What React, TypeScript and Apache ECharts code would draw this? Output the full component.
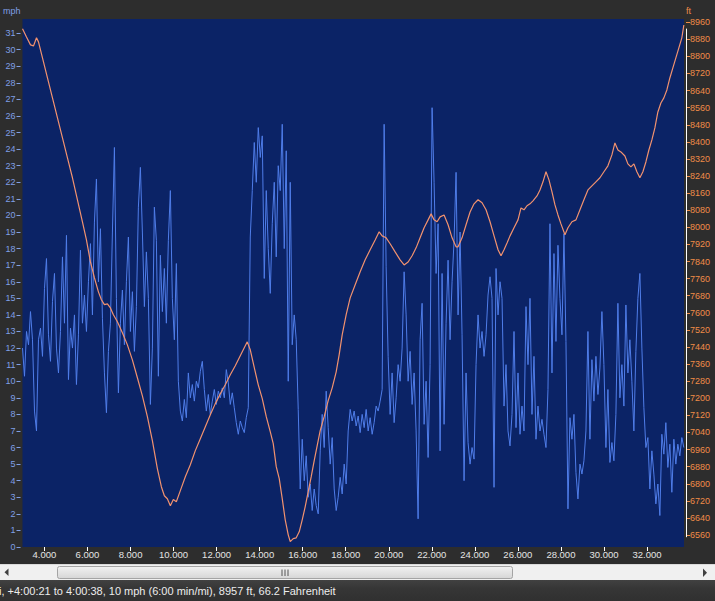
import React, { useEffect, useRef } from 'react';
import * as echarts from 'echarts';

// ---------- data ----------
const DIST_TICKS = [4, 6, 8, 10, 12, 14, 16, 18, 20, 22, 24, 26, 28, 30, 32];
const SPEED_TICKS = [0, 1, 2, 3, 4, 5, 6, 7, 8, 9, 10, 11, 12, 13, 14, 15, 16, 17, 18, 19, 20, 21, 22, 23, 24, 25, 26, 27, 28, 29, 30, 31];
const ELEV_TICKS = [6560, 6640, 6720, 6800, 6880, 6960, 7040, 7120, 7200, 7280, 7360, 7440, 7520, 7600, 7680, 7760, 7840, 7920, 8000, 8080, 8160, 8240, 8320, 8400, 8480, 8560, 8640, 8720, 8800, 8880, 8960];

const DIST_MIN = 2.979;
const DIST_MAX = 33.72;
const SPEED_MIN = 0;
const SPEED_MAX = 31.85;
const ELEV_MIN = 6504;
const ELEV_MAX = 8975;

// speed samples (mph), recorded every SPEED_STEP miles from SPEED_START
const SPEED_START = 2.979;
const SPEED_STEP = 0.09285;
const SPEED_MPH = [
  12.0, 10.3, 13.0, 12.2, 14.2, 12.5, 8.2, 7.0, 12.5, 13.2,
  11.5, 15.6, 17.4, 12.8, 11.2, 14.8, 16.5, 12.0, 10.5, 13.0,
  17.5, 13.5, 18.8, 10.1, 13.2, 12.0, 14.0, 9.8, 12.8, 17.9,
  13.5, 15.2, 13.0, 16.0, 18.3, 14.0, 19.6, 22.2, 16.0, 19.2,
  13.8, 10.5, 8.1, 11.8, 13.5, 19.0, 24.1, 15.0, 9.3, 13.5,
  15.5, 12.2, 16.0, 18.7, 13.0, 15.4, 11.8, 14.5, 20.5, 22.9,
  19.0, 14.5, 17.8, 15.0, 8.6, 12.0, 20.5, 18.5, 10.3, 17.6,
  14.2, 16.8, 13.5, 18.5, 21.5, 15.0, 12.5, 17.1, 10.0, 8.2,
  7.6, 8.9, 7.8, 10.5, 9.0, 9.8, 8.8, 10.0, 9.6, 10.6,
  11.2, 9.5, 8.2, 9.2, 8.0, 8.8, 9.5, 8.6, 9.4, 9.0,
  9.6, 9.0, 10.7, 9.9, 8.6, 9.3, 8.4, 7.5, 6.8, 7.6,
  7.2, 6.9, 7.8, 8.4, 18.7, 21.5, 24.4, 22.0, 25.3, 23.5,
  24.8, 16.2, 21.5, 18.0, 15.3, 19.5, 22.0, 17.5, 23.0, 21.5,
  25.5, 18.0, 23.9, 10.0, 22.0, 12.2, 14.0, 12.5, 8.3, 3.5,
  6.5, 4.0, 5.5, 3.0, 3.8, 2.2, 3.5, 2.5, 2.0, 5.8,
  8.0, 6.0, 9.4, 7.2, 5.0, 6.6, 3.5, 2.2, 3.0, 4.2,
  3.2, 5.0, 3.8, 7.0, 8.3, 7.6, 8.2, 7.3, 7.9, 6.9,
  8.0, 7.2, 8.3, 7.0, 7.8, 6.8, 7.5, 8.5, 8.2, 8.8,
  9.5, 25.5, 16.9, 11.5, 8.0, 10.5, 7.5, 9.0, 11.0, 10.0,
  12.0, 16.6, 14.0, 10.0, 11.8, 8.6, 10.5, 7.0, 1.7, 12.5,
  14.7, 7.4, 10.0, 5.4, 11.0, 26.5, 22.0, 16.5, 19.5, 5.8,
  16.5, 7.4, 13.5, 17.3, 12.5, 16.0, 18.5, 22.6, 14.0, 19.0,
  12.8, 4.0, 10.5, 6.3, 5.0, 6.0, 5.3, 11.0, 14.0, 12.0,
  13.0, 11.5, 12.8, 15.2, 16.3, 15.0, 3.6, 16.8, 14.0, 16.0,
  15.0, 8.5, 11.0, 7.0, 6.1, 8.0, 13.0, 7.2, 10.5, 6.8,
  8.5, 7.0, 14.5, 11.0, 15.0, 8.0, 11.5, 6.5, 8.5, 7.0,
  7.7, 6.8, 6.0, 9.5, 19.5, 10.5, 17.7, 12.4, 18.2, 15.0,
  12.8, 18.9, 12.4, 2.3, 7.8, 6.5, 8.0, 4.5, 2.9, 5.0,
  4.4, 5.2, 7.0, 13.0, 6.5, 11.3, 8.8, 11.5, 9.2, 10.8,
  14.2, 11.0, 6.0, 9.5, 5.1, 6.3, 5.2, 8.0, 14.7, 9.0,
  11.0, 8.5, 14.6, 10.5, 12.5, 10.0, 7.0, 11.8, 15.0, 16.5,
  12.0, 8.4, 6.0, 6.6, 3.5, 5.8, 4.4, 2.6, 3.8, 1.9,
  6.8, 5.6, 7.5, 4.8, 6.2, 3.3, 6.5, 5.0, 6.2, 5.5, 6.6, 6.0,
];

// elevation (ft) at distance (mi)
const ELEVATION: [number, number][] = [
  [2.979, 8929], [3.164, 8891], [3.350, 8854], [3.489, 8849], [3.629, 8887], [3.721, 8868],
  [3.907, 8793], [4.139, 8699], [4.371, 8606], [4.604, 8512], [4.836, 8419], [5.068, 8325],
  [5.300, 8232], [5.532, 8129], [5.764, 8026], [5.950, 7941], [6.136, 7838], [6.321, 7764],
  [6.507, 7698], [6.646, 7661], [6.786, 7638], [6.925, 7642], [7.064, 7623], [7.203, 7591],
  [7.389, 7558], [7.621, 7507], [7.853, 7450], [8.085, 7380], [8.318, 7296], [8.550, 7211],
  [8.782, 7114], [9.014, 7002], [9.246, 6871], [9.432, 6786], [9.571, 6744], [9.710, 6730],
  [9.850, 6697], [9.989, 6726], [10.128, 6716], [10.314, 6768], [10.546, 6833], [10.778, 6889],
  [11.010, 6955], [11.242, 7011], [11.475, 7067], [11.707, 7123], [11.939, 7175], [12.171, 7221],
  [12.403, 7263], [12.635, 7310], [12.867, 7352], [13.099, 7399], [13.331, 7446], [13.424, 7464],
  [13.564, 7427], [13.750, 7343], [13.935, 7263], [14.121, 7198], [14.307, 7114], [14.492, 7044],
  [14.631, 6988], [14.771, 6880], [14.910, 6824], [15.049, 6730], [15.188, 6631], [15.328, 6561],
  [15.421, 6529], [15.560, 6543], [15.699, 6547], [15.838, 6575], [15.978, 6631], [16.117, 6693],
  [16.256, 6763], [16.396, 6833], [16.535, 6908], [16.674, 6978], [16.813, 7049], [16.999, 7114],
  [17.185, 7189], [17.371, 7249], [17.556, 7324], [17.696, 7404], [17.835, 7497], [18.021, 7591],
  [18.206, 7670], [18.439, 7731], [18.671, 7792], [18.903, 7848], [19.135, 7895], [19.367, 7941],
  [19.553, 7979], [19.692, 7960], [19.878, 7951], [20.063, 7923], [20.295, 7885], [20.527, 7848],
  [20.713, 7824], [20.899, 7838], [21.085, 7867], [21.270, 7904], [21.456, 7951], [21.642, 7998],
  [21.828, 8035], [21.967, 8063], [22.106, 8035], [22.245, 8026], [22.385, 8049], [22.570, 8058],
  [22.756, 8012], [22.942, 7951], [23.127, 7909], [23.220, 7909], [23.406, 7951], [23.592, 8012],
  [23.778, 8072], [23.963, 8110], [24.149, 8129], [24.335, 8115], [24.520, 8082], [24.706, 8026],
  [24.892, 7960], [25.078, 7895], [25.217, 7867], [25.356, 7895], [25.496, 7927], [25.635, 7960],
  [25.820, 7998], [26.006, 8035], [26.145, 8091], [26.285, 8082], [26.424, 8101], [26.563, 8110],
  [26.702, 8124], [26.888, 8147], [27.027, 8175], [27.167, 8213], [27.306, 8260], [27.445, 8222],
  [27.585, 8166], [27.724, 8105], [27.863, 8058], [28.002, 8016], [28.188, 7965], [28.327, 7998],
  [28.513, 8026], [28.699, 8035], [28.885, 8082], [29.070, 8129], [29.256, 8175], [29.441, 8194],
  [29.627, 8213], [29.813, 8232], [29.999, 8260], [30.184, 8288], [30.370, 8339], [30.509, 8395],
  [30.649, 8362], [30.788, 8353], [30.974, 8334], [31.113, 8297], [31.253, 8283], [31.392, 8297],
  [31.531, 8260], [31.671, 8232], [31.810, 8260], [31.949, 8306], [32.088, 8362], [32.228, 8409],
  [32.367, 8465], [32.506, 8540], [32.646, 8582], [32.785, 8606], [32.924, 8643], [33.063, 8699],
  [33.203, 8746], [33.342, 8793], [33.481, 8840], [33.620, 8887], [33.713, 8947],
];

const STATUS_TEXT = 'i, +4:00:21 to 4:00:38, 10 mph (6:00 min/mi), 8957 ft, 66.2 Fahrenheit';

// ---------- styles ----------
const BG = '#2d2d2d';
const PLOT_BG = '#0b2366';
const SPEED_COLOR = '#4f7de9';
const ELEV_COLOR = '#f2926f';
const LEFT_LABEL = '#7f9fe6';
const RIGHT_LABEL = '#f08c48';
const FONT = 'Liberation Sans';

export default function App() {
  const ref = useRef<HTMLDivElement>(null);

  useEffect(() => {
    if (!ref.current) return;
    const chart = echarts.init(ref.current, undefined, { renderer: 'svg' });

    const speedData = SPEED_MPH.map((v, i) => [SPEED_START + i * SPEED_STEP, v]);

    chart.setOption({
      animation: false,
      backgroundColor: BG,
      textStyle: { fontFamily: FONT },
      grid: {
        left: 22,
        top: 19,
        right: 31,
        bottom: 54,
        show: true,
        backgroundColor: PLOT_BG,
        borderWidth: 0,
        containLabel: false,
      },
      xAxis: {
        type: 'value',
        min: DIST_MIN,
        max: DIST_MAX,
        axisLine: { show: false },
        splitLine: { show: false },
        axisTick: {
          show: true,
          customValues: DIST_TICKS,
          length: 4,
          lineStyle: { color: '#ffffff', width: 1 },
        },
        axisLabel: {
          customValues: DIST_TICKS,
          formatter: (v: number) => v.toFixed(3),
          color: '#e4e4e4',
          fontSize: 9.5,
          fontFamily: FONT,
          margin: 2,
        },
      },
      yAxis: [
        {
          type: 'value',
          position: 'left',
          min: SPEED_MIN,
          max: SPEED_MAX,
          offset: 2,
          name: 'mph',
          nameLocation: 'end',
          nameGap: 4,
          nameTextStyle: {
            color: LEFT_LABEL,
            fontSize: 9,
            fontFamily: FONT,
            align: 'right',
            verticalAlign: 'bottom',
          },
          axisLine: { show: false },
          splitLine: { show: false },
          axisTick: {
            show: true,
            customValues: SPEED_TICKS,
            length: 4,
            lineStyle: { color: LEFT_LABEL, width: 1 },
          },
          axisLabel: {
            customValues: SPEED_TICKS,
            formatter: (v: number) => String(v),
            color: LEFT_LABEL,
            fontSize: 9,
            fontFamily: FONT,
            margin: 5,
          },
        },
        {
          type: 'value',
          position: 'right',
          min: ELEV_MIN,
          max: ELEV_MAX,
          offset: 2,
          name: 'ft',
          nameLocation: 'end',
          nameGap: 4,
          nameTextStyle: {
            color: RIGHT_LABEL,
            fontSize: 9,
            fontFamily: FONT,
            align: 'left',
            verticalAlign: 'bottom',
          },
          axisLine: { show: false },
          splitLine: { show: false },
          axisTick: {
            show: true,
            customValues: ELEV_TICKS,
            length: 4,
            lineStyle: { color: RIGHT_LABEL, width: 1 },
          },
          axisLabel: {
            customValues: ELEV_TICKS,
            formatter: (v: number) => String(v),
            color: RIGHT_LABEL,
            fontSize: 9,
            fontFamily: FONT,
            margin: 4,
          },
        },
      ],
      series: [
        {
          name: 'Speed',
          type: 'line',
          yAxisIndex: 0,
          data: speedData,
          showSymbol: false,
          lineStyle: { color: SPEED_COLOR, width: 1 },
          itemStyle: { color: SPEED_COLOR },
          z: 2,
        },
        {
          name: 'Elevation',
          type: 'line',
          yAxisIndex: 1,
          data: ELEVATION,
          showSymbol: false,
          lineStyle: { color: ELEV_COLOR, width: 1.2 },
          itemStyle: { color: ELEV_COLOR },
          z: 3,
        },
      ],
    });

    const yTop = chart.convertToPixel({ yAxisIndex: 1 }, 8930) as number;
    const yBot = chart.convertToPixel({ yAxisIndex: 1 }, 6550) as number;
    const xRight = (chart.convertToPixel({ xAxisIndex: 0 }, DIST_MAX) as number) + 2;

    chart.setOption({
      graphic: [
        {
          type: 'line',
          shape: { x1: xRight + 0.5, y1: yTop, x2: xRight + 0.5, y2: yBot },
          style: { stroke: '#ffffff', lineWidth: 1 },
          z: 10,
        },
        // scrollbar
        {
          type: 'rect',
          shape: { x: 0, y: 564, width: 715, height: 16 },
          style: { fill: '#f0f0f0' },
        },
        {
          type: 'line',
          shape: { x1: 0, y1: 564.5, x2: 715, y2: 564.5 },
          style: { stroke: '#dadada', lineWidth: 1 },
        },
        {
          type: 'polygon',
          shape: { points: [[8.5, 568.5], [8.5, 576], [4.5, 572.2]] },
          style: { fill: '#404040' },
        },
        {
          type: 'polygon',
          shape: { points: [[703, 568.5], [703, 577], [707, 572.7]] },
          style: { fill: '#404040' },
        },
        {
          type: 'rect',
          shape: { x: 57.5, y: 566.5, width: 455, height: 12, r: 2 },
          style: {
            fill: new echarts.graphic.LinearGradient(0, 0, 0, 1, [
              { offset: 0, color: '#f2f2f2' },
              { offset: 1, color: '#d6d6d6' },
            ]),
            stroke: '#a4a4a4',
            lineWidth: 1,
          },
        },
        {
          type: 'line',
          shape: { x1: 282, y1: 569.5, x2: 282, y2: 576 },
          style: { stroke: '#555555', lineWidth: 1 },
        },
        {
          type: 'line',
          shape: { x1: 285, y1: 569.5, x2: 285, y2: 576 },
          style: { stroke: '#555555', lineWidth: 1 },
        },
        {
          type: 'line',
          shape: { x1: 288, y1: 569.5, x2: 288, y2: 576 },
          style: { stroke: '#555555', lineWidth: 1 },
        },
        // status bar
        {
          type: 'rect',
          shape: { x: 0, y: 580, width: 715, height: 21 },
          style: {
            fill: new echarts.graphic.LinearGradient(0, 0, 0, 1, [
              { offset: 0, color: '#414141' },
              { offset: 0.4, color: '#363636' },
              { offset: 1, color: '#303030' },
            ]),
          },
        },
        {
          type: 'text',
          x: -1,
          y: 591,
          style: {
            text: STATUS_TEXT,
            fill: '#ececec',
            fontSize: 11,
            fontFamily: FONT,
            verticalAlign: 'middle',
            align: 'left',
          },
        },
      ],
    });

    return () => {
      chart.dispose();
    };
  }, []);

  return (
    <div
      ref={ref}
      style={{ position: 'fixed', left: 0, top: 0, width: 715, height: 601 }}
    />
  );
}
